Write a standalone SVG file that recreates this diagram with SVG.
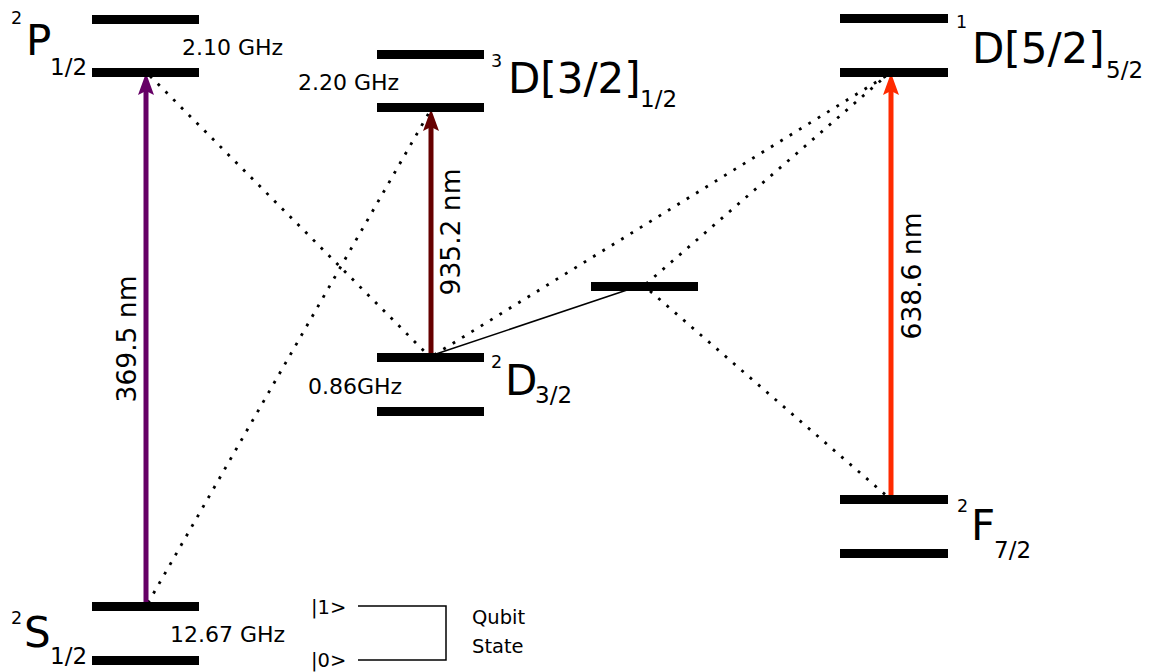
<svg xmlns="http://www.w3.org/2000/svg" width="1155" height="672" viewBox="0 0 1155 672">
<style>
.lvl{fill:#000}
text{font-family:"DejaVu Sans","Liberation Sans",sans-serif;fill:#000}
.big{font-size:42px}
.sup{font-size:17.5px}
.sub{font-size:23px}
.ghz{font-size:22px}
.nm{font-size:26.5px}
.q{font-size:19.5px}
.dot{stroke:#000;stroke-width:2.8;stroke-dasharray:2.8 8.2;fill:none}
.thin{stroke:#000;stroke-width:1.5;fill:none}
</style>
<defs>
<marker id="hp" markerUnits="userSpaceOnUse" markerWidth="40" markerHeight="30" viewBox="-10 -15 40 30" refX="0" refY="0" orient="auto" overflow="visible"><path d="M18,0 L-4,-8 L0,0 L-4,8 Z" fill="#660066"/></marker>
<marker id="hd" markerUnits="userSpaceOnUse" markerWidth="40" markerHeight="30" viewBox="-10 -15 40 30" refX="0" refY="0" orient="auto" overflow="visible"><path d="M18,0 L-4,-8 L0,0 L-4,8 Z" fill="#660000"/></marker>
<marker id="hr" markerUnits="userSpaceOnUse" markerWidth="40" markerHeight="30" viewBox="-10 -15 40 30" refX="0" refY="0" orient="auto" overflow="visible"><path d="M18,0 L-4,-8 L0,0 L-4,8 Z" fill="#ff2a00"/></marker>
</defs>
<rect width="1155" height="672" fill="#fff"/>

<g id="connectors">
<line class="dot" x1="150" y1="76" x2="428" y2="355"/>
<line class="dot" x1="148" y1="603" x2="430" y2="111"/>
<line class="dot" x1="434" y1="355" x2="886" y2="76"/>
<line class="dot" x1="646" y1="284" x2="886" y2="76"/>
<line class="dot" x1="650" y1="291" x2="888" y2="497"/>
<line class="thin" x1="433" y1="355" x2="636" y2="287"/>
<line x1="146" y1="606" x2="146" y2="91" stroke="#660066" stroke-width="5" marker-end="url(#hp)"/>
<line x1="431" y1="357" x2="431" y2="127" stroke="#660000" stroke-width="5" marker-end="url(#hd)"/>
<line x1="891" y1="499" x2="891" y2="91" stroke="#ff2a00" stroke-width="5" marker-end="url(#hr)"/>
<polyline class="thin" points="358,606 446,606 446,660 358,660"/>
</g>

<g id="P12">
<rect class="lvl" x="92" y="15" width="107" height="9"/>
<rect class="lvl" x="92" y="68" width="107" height="9"/>
<text class="sup" x="11" y="24">2</text>
<text class="big" x="26" y="55">P</text>
<text class="sub" x="50" y="75">1/2</text>
<text class="ghz" x="182" y="55">2.10 GHz</text>
</g>

<g id="S12">
<rect class="lvl" x="92" y="602" width="107" height="9"/>
<rect class="lvl" x="92" y="656" width="107" height="9"/>
<text class="sup" x="11" y="624">2</text>
<text class="big" x="24" y="647">S</text>
<text class="sub" x="50" y="664">1/2</text>
<text class="ghz" x="170" y="642">12.67 GHz</text>
</g>

<g id="D3_32_12">
<rect class="lvl" x="377" y="50" width="107" height="9"/>
<rect class="lvl" x="377" y="103" width="107" height="9"/>
<text class="sup" x="491" y="67">3</text>
<text class="big" x="508" y="93">D[3/2]</text>
<text class="sub" x="640" y="107">1/2</text>
<text class="ghz" x="298" y="90">2.20 GHz</text>
</g>

<g id="D32">
<rect class="lvl" x="377" y="353" width="107" height="9"/>
<rect class="lvl" x="377" y="407" width="107" height="9"/>
<text class="sup" x="491" y="368">2</text>
<text class="big" x="505" y="395">D</text>
<text class="sub" x="535" y="403">3/2</text>
<text class="ghz" x="308" y="394">0.86GHz</text>
</g>

<g id="mid">
<rect class="lvl" x="591" y="282" width="107" height="9"/>
</g>

<g id="D1_52_52">
<rect class="lvl" x="840" y="14" width="108" height="9"/>
<rect class="lvl" x="840" y="68" width="108" height="9"/>
<text class="sup" x="956" y="28">1</text>
<text class="big" x="972" y="63">D[5/2]</text>
<text class="sub" x="1106" y="78">5/2</text>
</g>

<g id="F72">
<rect class="lvl" x="840" y="495" width="108" height="9"/>
<rect class="lvl" x="840" y="549" width="108" height="9"/>
<text class="sup" x="957" y="512">2</text>
<text class="big" x="971" y="540">F</text>
<text class="sub" x="994" y="558">7/2</text>
</g>

<g id="labels">
<text class="nm" transform="translate(136,339) rotate(-90)" text-anchor="middle">369.5 nm</text>
<text class="nm" transform="translate(460,232) rotate(-90)" text-anchor="middle">935.2 nm</text>
<text class="nm" transform="translate(921,276) rotate(-90)" text-anchor="middle">638.6 nm</text>
</g>

<g id="qubit">
<text class="q" x="311" y="614">|1&gt;</text>
<text class="q" x="311" y="667">|0&gt;</text>
<text class="q" x="472" y="624">Qubit</text>
<text class="q" x="472" y="653">State</text>
</g>
</svg>
